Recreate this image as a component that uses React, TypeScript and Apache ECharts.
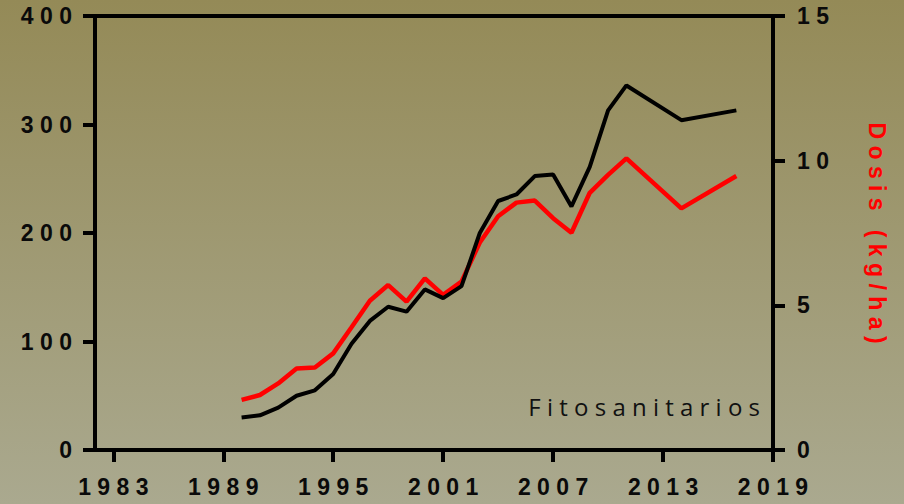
import React, { useEffect, useRef } from "react";
import * as echarts from "echarts";

const years = [1990, 1991, 1992, 1993, 1994, 1995, 1996, 1997, 1998, 1999, 2000, 2001, 2002, 2003, 2004, 2005, 2006, 2007, 2008, 2009, 2010, 2011, 2014, 2017];
const fitosanitarios = [30, 32, 39, 50, 55, 70, 98, 119, 132, 127.5, 148, 140, 151, 200, 229.5, 235.5, 252.5, 254, 224.5, 261, 313, 336, 304, 313];
const dosis = [1.73, 1.9, 2.3, 2.82, 2.85, 3.34, 4.24, 5.16, 5.7, 5.13, 5.93, 5.36, 5.82, 7.17, 8.08, 8.55, 8.62, 8.01, 7.51, 8.89, 9.51, 10.08, 8.35, 9.47];
const xTicks = [1983, 1989, 1995, 2001, 2007, 2013, 2019];
const leftTicks = [0, 100, 200, 300, 400];
const rightTicks = [0, 5, 10, 15];
const titleRight = "Dosis (kg/ha)";
const label = "Fitosanitarios";

const spaced = (s: string | number) => String(s).split("").join(" ");

export default function App() {
  const ref = useRef<HTMLDivElement>(null);
  useEffect(() => {
    if (!ref.current) return;
    const chart = echarts.init(ref.current, null, { renderer: "svg" });
    const lab = { color: "#0a0a0a", fontFamily: "Liberation Sans, Arial, sans-serif", fontWeight: "bold" as const, fontSize: 23 };
    chart.setOption({
      animation: false,
      backgroundColor: new echarts.graphic.LinearGradient(0, 0, 0, 1, [
        { offset: 0, color: "#948a57" },
        { offset: 1, color: "#aaa98f" },
      ]),
      grid: { left: 95, right: 131, top: 16, bottom: 54 },
      xAxis: [
        {
          type: "value",
          min: 1982,
          max: 2019,
          splitLine: { show: false },
          axisLine: { show: true, lineStyle: { color: "#000", width: 4 } },
          axisTick: { show: true, length: 12, lineStyle: { color: "#000", width: 4 }, customValues: xTicks },
          axisLabel: { ...lab, margin: 25, customValues: xTicks, formatter: (v: number) => spaced(v) },
        },
        {
          type: "value",
          position: "top",
          min: 1982,
          max: 2019,
          splitLine: { show: false },
          axisLine: { show: true, onZero: false, lineStyle: { color: "#000", width: 4 } },
          axisTick: { show: false },
          axisLabel: { show: false },
        },
      ],
      yAxis: [
        {
          type: "value",
          min: leftTicks[0],
          max: leftTicks[leftTicks.length - 1],
          interval: 100,
          splitLine: { show: false },
          axisLine: { show: true, lineStyle: { color: "#000", width: 4 } },
          axisTick: { show: true, length: 12, lineStyle: { color: "#000", width: 4 } },
          axisLabel: { ...lab, margin: 23, formatter: (v: number) => spaced(v) },
        },
        {
          type: "value",
          position: "right",
          min: rightTicks[0],
          max: rightTicks[rightTicks.length - 1],
          interval: 5,
          splitLine: { show: false },
          axisLine: { show: true, lineStyle: { color: "#000", width: 4 } },
          axisTick: { show: true, length: 12, lineStyle: { color: "#000", width: 4 } },
          axisLabel: { ...lab, margin: 24, formatter: (v: number) => spaced(v) },
          name: spaced(titleRight),
          nameLocation: "middle",
          nameRotate: -90,
          nameGap: 92,
          nameTextStyle: { color: "#ff0000", fontFamily: "Liberation Sans, Arial, sans-serif", fontWeight: "bold", fontSize: 23 },
        },
      ],
      graphic: [
        {
          type: "text",
          x: 760,
          y: 406,
          style: {
            text: spaced(label),
            fill: "#111",
            font: "24px 'Open Sans', sans-serif",
            textAlign: "right",
            textVerticalAlign: "middle",
          },
        },
      ],
      series: [
        {
          type: "line",
          yAxisIndex: 1,
          data: years.map((y, i) => [y, dosis[i]]),
          showSymbol: false,
          lineStyle: { color: "#ff0000", width: 4.5 },
          z: 2,
        },
        {
          type: "line",
          yAxisIndex: 0,
          data: years.map((y, i) => [y, fitosanitarios[i]]),
          showSymbol: false,
          lineStyle: { color: "#000000", width: 4 },
          z: 3,
        },
      ],
    });
    return () => chart.dispose();
  }, []);
  return <div ref={ref} style={{ position: "fixed", left: 0, top: 0, width: 904, height: 504 }} />;
}
